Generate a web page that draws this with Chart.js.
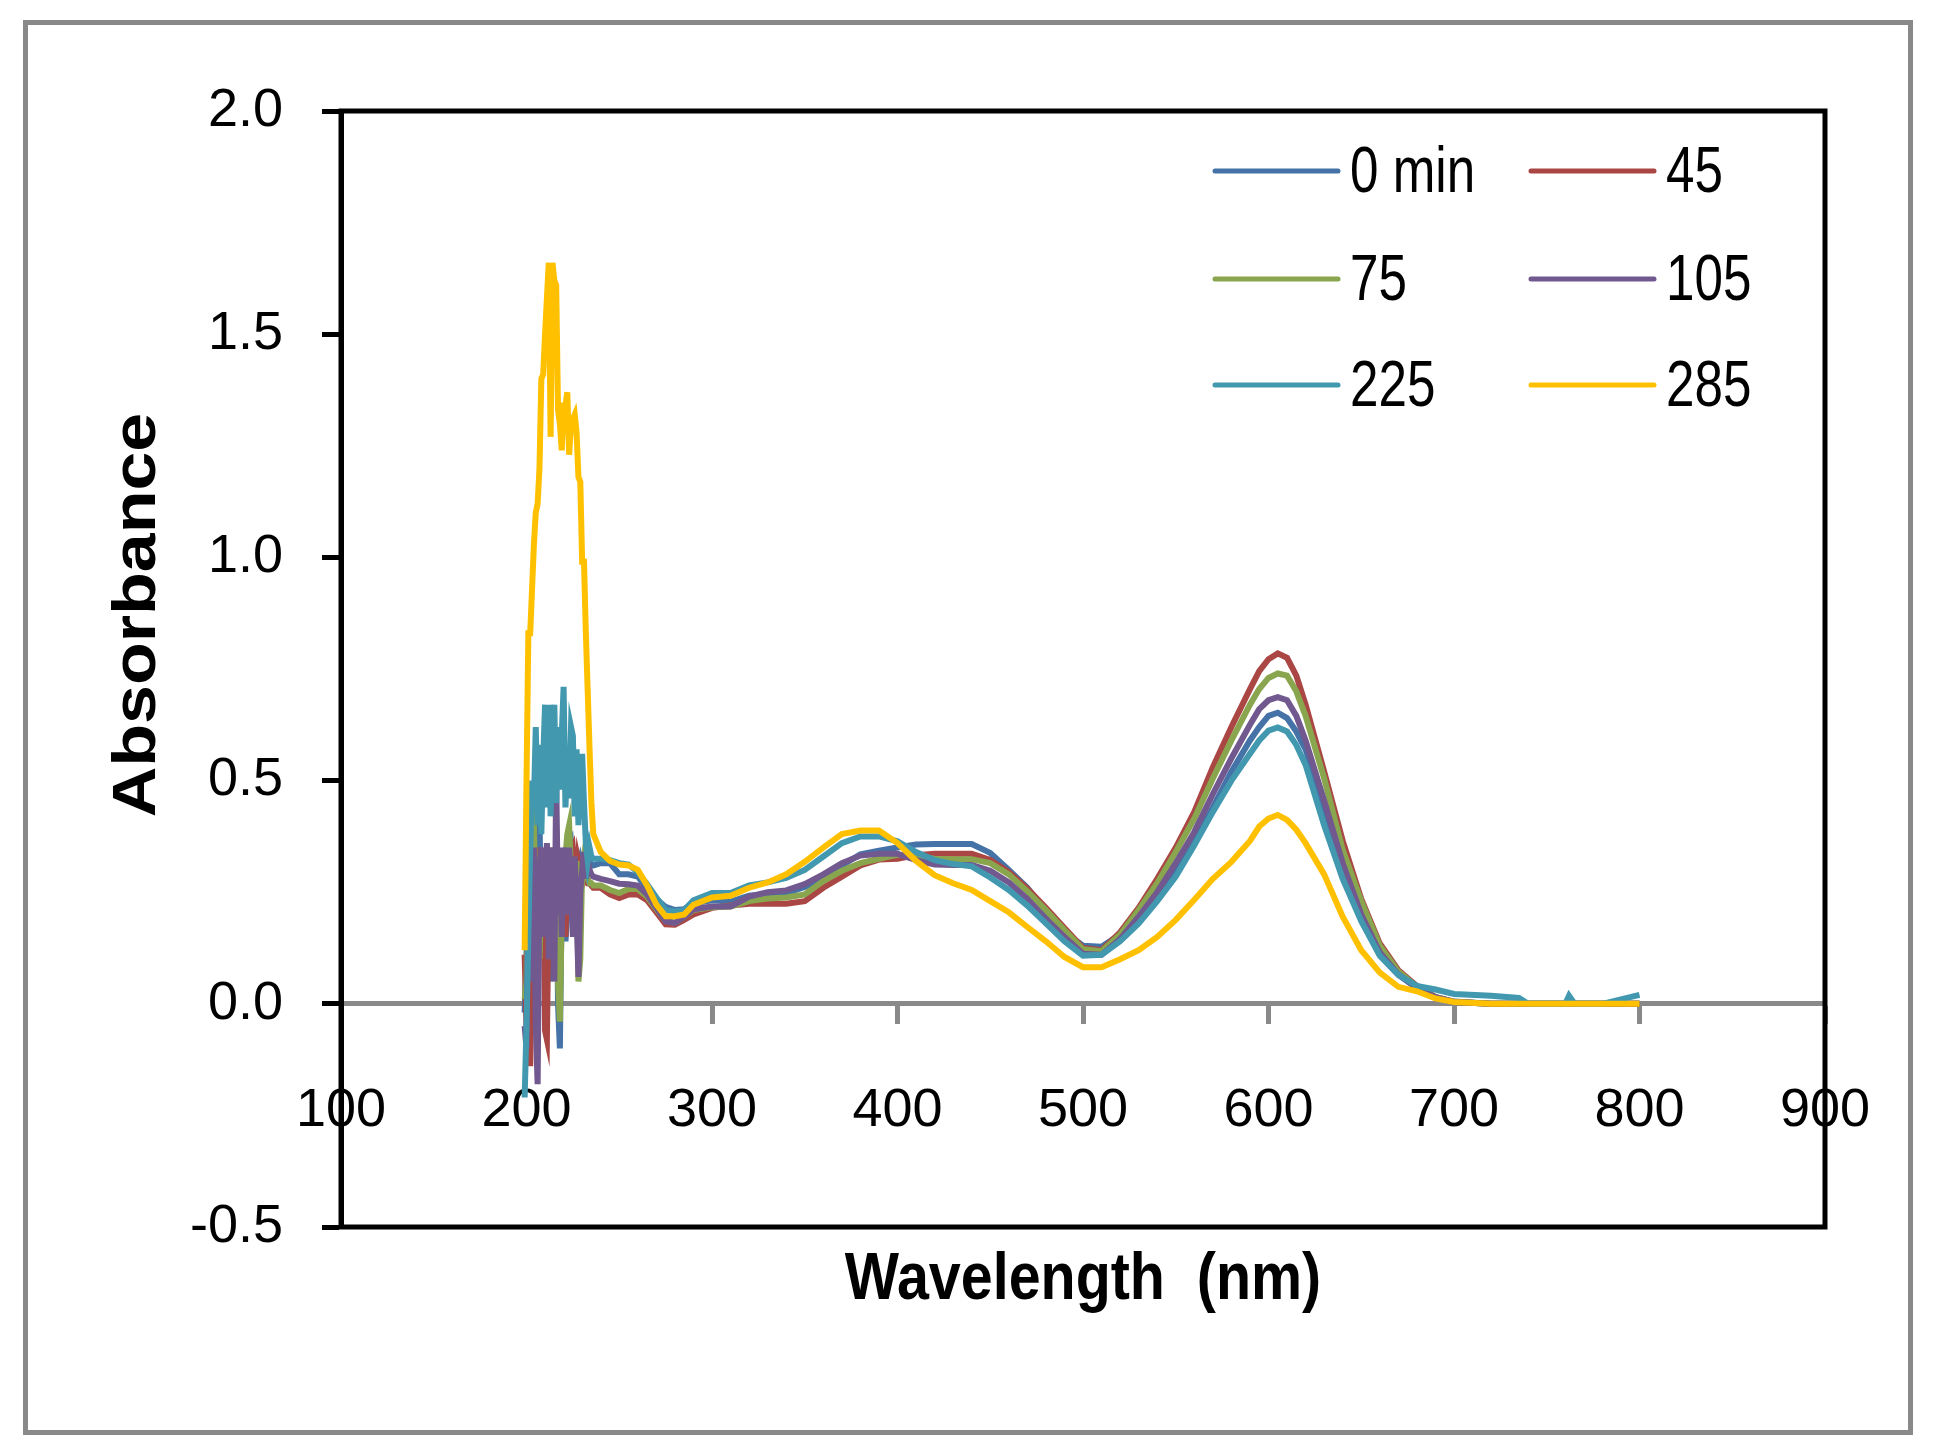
<!DOCTYPE html>
<html>
<head>
<meta charset="utf-8">
<title>Absorbance spectra</title>
<script src="https://cdn.jsdelivr.net/npm/chart.js@4.4.1/dist/chart.umd.min.js"></script>
<style>
  html, body { margin: 0; padding: 0; background: #fff; }
  #wrap { width: 1936px; height: 1455px; position: relative; }
</style>
</head>
<body>
<div id="wrap"><canvas id="spectra"></canvas></div>
<script>
// wavelength grid (nm): 1 nm steps through the noisy UV part, coarser after
const wavelengths = [
  199, 200, 201, 202, 203, 204, 205, 206, 207, 208, 209, 210, 211, 212, 213, 214, 215, 216, 217,
  218, 219, 220, 221, 222, 223, 224, 225, 226, 227, 228, 229, 230, 231, 232, 233, 234, 235, 236,
  240, 245, 250, 255, 260, 265, 270, 275, 280, 285, 290,
  300, 310, 320, 330, 340, 350, 360, 370, 380, 390, 400, 410, 420, 430, 440, 450, 460, 470, 480, 490, 500,
  510, 520, 530, 540, 550, 560, 570, 580, 590, 595, 600, 605, 610, 615, 620,
  630, 640, 650, 660, 670, 680, 690, 700,
  720, 735, 740, 760, 762, 765, 780, 800
]

const abs0 = [
  -0.02, 0.10, 0.30, 0.15, 0.25, 0.42, 0.20, 0.35, 0.42, 0.15, 0.30, 0.20, 0.35, 0.28, 0.05, 0.30, 0.22, 0.35, 0.00,
  -0.10, 0.25, 0.30, 0.14, 0.20, 0.35, 0.36, 0.30, 0.28, 0.20, 0.30, 0.32, 0.30, 0.31, 0.33, 0.31, 0.32, 0.31, 0.31,
  0.315, 0.315, 0.29, 0.29, 0.285, 0.26, 0.235, 0.217, 0.21, 0.212, 0.225,
  0.232, 0.229, 0.242, 0.246, 0.248, 0.262, 0.28, 0.31, 0.335, 0.343, 0.35, 0.357, 0.358, 0.358, 0.358, 0.338, 0.30, 0.26, 0.207, 0.16, 0.13,
  0.128, 0.155, 0.20, 0.25, 0.30, 0.365, 0.44, 0.52, 0.59, 0.62, 0.645, 0.652, 0.64, 0.61, 0.57,
  0.44, 0.29, 0.19, 0.11, 0.065, 0.035, 0.015, 0.005,
  0, 0, 0, 0, 0, 0, 0, 0
]

const abs45 = [
  0.11, -0.05, 0.25, -0.14, 0.20, 0.30, 0.05, 0.28, 0.35, 0.10, 0.32, -0.06, -0.08, 0.25, 0.35, 0.18, 0.30, 0.32, 0.10,
  0.25, 0.28, 0.30, 0.15, 0.30, 0.25, 0.34, 0.35, 0.30, 0.20, 0.32, 0.30, 0.27, 0.29, 0.28, 0.27, 0.27, 0.265, 0.26,
  0.26, 0.245, 0.237, 0.245, 0.245, 0.232, 0.205, 0.178, 0.177, 0.188, 0.20,
  0.215, 0.22, 0.224, 0.224, 0.224, 0.23, 0.26, 0.285, 0.31, 0.323, 0.325, 0.333, 0.336, 0.336, 0.336, 0.322, 0.295, 0.258, 0.215, 0.17, 0.125,
  0.12, 0.16, 0.215, 0.28, 0.35, 0.43, 0.53, 0.62, 0.705, 0.745, 0.772, 0.785, 0.775, 0.735, 0.67,
  0.52, 0.365, 0.235, 0.135, 0.075, 0.04, 0.015, 0.004,
  0, 0, 0, 0, 0, 0, 0, 0
]

const abs75 = [
  0.01, 0.05, 0.35, 0.30, 0.47, 0.40, 0.20, 0.30, 0.10, 0.25, 0.32, 0.15, 0.35, 0.25, 0.28, 0.10, 0.30, 0.25, 0.05,
  -0.04, 0.20, 0.27, 0.33, 0.38, 0.40, 0.30, 0.20, 0.28, 0.32, 0.05, 0.10, 0.30, 0.33, 0.30, 0.28, 0.27, 0.27, 0.265,
  0.265, 0.255, 0.248, 0.257, 0.257, 0.24, 0.212, 0.186, 0.181, 0.195, 0.21,
  0.216, 0.218, 0.23, 0.236, 0.238, 0.245, 0.275, 0.298, 0.315, 0.325, 0.334, 0.33, 0.325, 0.324, 0.324, 0.315, 0.29, 0.252, 0.21, 0.165, 0.122,
  0.118, 0.155, 0.21, 0.27, 0.34, 0.415, 0.505, 0.59, 0.67, 0.705, 0.73, 0.74, 0.735, 0.70, 0.645,
  0.505, 0.345, 0.23, 0.13, 0.072, 0.038, 0.015, 0.004,
  0, 0, 0, 0, 0, 0, 0, 0
]

const abs105 = [
  -0.05, -0.10, 0.30, 0.05, 0.15, 0.35, -0.05, -0.18, 0.30, 0.35, 0.15, 0.25, 0.36, 0.10, 0.30, 0.35, 0.05, 0.51, 0.20,
  0.35, 0.15, 0.35, 0.30, 0.20, 0.35, 0.28, 0.15, 0.33, 0.20, 0.06, 0.25, 0.30, 0.34, 0.28, 0.32, 0.30, 0.29, 0.285,
  0.28, 0.275, 0.269, 0.268, 0.265, 0.245, 0.215, 0.185, 0.181, 0.195, 0.212,
  0.218, 0.218, 0.24, 0.25, 0.254, 0.268, 0.29, 0.315, 0.332, 0.336, 0.336, 0.322, 0.312, 0.311, 0.311, 0.298, 0.272, 0.235, 0.19, 0.15, 0.112,
  0.11, 0.145, 0.195, 0.25, 0.315, 0.385, 0.47, 0.55, 0.625, 0.66, 0.68, 0.687, 0.68, 0.645, 0.59,
  0.455, 0.315, 0.20, 0.115, 0.066, 0.036, 0.015, 0.004,
  0, 0, 0, 0, 0, 0, 0, 0
]

const abs225 = [
  -0.21, -0.05, 0.15, 0.35, 0.50, 0.45, 0.62, 0.40, 0.58, 0.38, 0.55, 0.67, 0.44, 0.67, 0.42, 0.58, 0.67, 0.45, 0.62,
  0.48, 0.60, 0.71, 0.44, 0.55, 0.46, 0.62, 0.60, 0.42, 0.57, 0.40, 0.52, 0.56, 0.45, 0.36, 0.32, 0.35, 0.33, 0.325,
  0.325, 0.322, 0.315, 0.312, 0.295, 0.268, 0.238, 0.21, 0.207, 0.21, 0.232,
  0.248, 0.248, 0.265, 0.272, 0.282, 0.30, 0.33, 0.36, 0.375, 0.375, 0.364, 0.34, 0.322, 0.313, 0.308, 0.283, 0.255, 0.22, 0.18, 0.14, 0.108,
  0.11, 0.14, 0.18, 0.23, 0.285, 0.355, 0.43, 0.50, 0.56, 0.59, 0.612, 0.619, 0.61, 0.58, 0.535,
  0.40, 0.28, 0.185, 0.108, 0.065, 0.04, 0.032, 0.022,
  0.018, 0.013, 0, 0, 0.018, 0, 0, 0.02
]

const abs285 = [
  0.12, 0.50, 0.83, 0.83, 0.93, 1.03, 1.10, 1.12, 1.20, 1.40, 1.41, 1.50, 1.58, 1.66, 1.27, 1.66, 1.62, 1.61, 1.33,
  1.30, 1.24, 1.34, 1.34, 1.37, 1.23, 1.30, 1.31, 1.32, 1.28, 1.18, 1.17, 0.99, 0.99, 0.83, 0.70, 0.57, 0.45, 0.38,
  0.34, 0.32, 0.312, 0.31, 0.30, 0.265, 0.222, 0.196, 0.196, 0.20, 0.222,
  0.238, 0.242, 0.26, 0.272, 0.29, 0.318, 0.35, 0.38, 0.388, 0.388, 0.36, 0.32, 0.288, 0.27, 0.255, 0.23, 0.205, 0.172, 0.14, 0.105, 0.082,
  0.082, 0.10, 0.12, 0.15, 0.188, 0.233, 0.28, 0.318, 0.365, 0.397, 0.415, 0.423, 0.412, 0.39, 0.36,
  0.29, 0.195, 0.12, 0.07, 0.038, 0.028, 0.012, 0.004,
  0, 0, 0, 0, 0, 0, 0, 0
]

const seriesLabels = ['0 min', '45', '75', '105', '225', '285']
const seriesValues = [abs0, abs45, abs75, abs105, abs225, abs285]
const seriesColors = ['#4572A7', '#AA4643', '#89A54E', '#71588F', '#4198AF', '#FFC000']

const xTicks = [100, 200, 300, 400, 500, 600, 700, 800, 900]
const yTicks = [-0.5, 0, 0.5, 1.0, 1.5, 2.0]

const sans = "'Liberation Sans', Arial, sans-serif"

// text in the original is a bit condensed, so squeeze it sideways
function condensedText(ctx, text, x, y, squeeze) {
    ctx.save()
    ctx.translate(x, y)
    ctx.scale(squeeze, 1)
    ctx.fillText(text, 0, 0)
    ctx.restore()
}

// grey outer frame, black plot frame, axis titles and the 2-column legend
const decorPlugin = {
    id: 'decor',
    beforeDraw(chart) {
        const { ctx } = chart
        ctx.save()
        ctx.fillStyle = '#fff'
        ctx.fillRect(0, 0, chart.width, chart.height)
        ctx.strokeStyle = '#898989'
        ctx.lineWidth = 5
        ctx.strokeRect(25.5, 22.5, 1885, 1410)
        ctx.restore()
    },
    afterDraw(chart) {
        const { ctx, chartArea: a } = chart
        ctx.save()
        ctx.strokeStyle = '#000'
        ctx.lineWidth = 5
        ctx.strokeRect(a.left, a.top, a.right - a.left, a.bottom - a.top)

        ctx.fillStyle = '#000'
        ctx.textAlign = 'center'
        ctx.textBaseline = 'middle'
        ctx.font = 'bold 66px ' + sans
        condensedText(ctx, 'Wavelength  (nm)', (a.left + a.right) / 2, 1281, 0.87)

        ctx.save()
        ctx.translate(138, 615)
        ctx.rotate(-Math.PI / 2)
        ctx.scale(1, 0.88)
        ctx.font = 'bold 70px ' + sans
        ctx.fillText('Absorbance', 0, 0)
        ctx.restore()

        // legend
        const cols = [1215, 1531]
        const rows = [171, 279, 385]
        ctx.font = '64px ' + sans
        ctx.textAlign = 'left'
        ctx.lineCap = 'round'
        chart.data.datasets.forEach((ds, i) => {
            const x = cols[i % 2]
            const y = rows[Math.floor(i / 2)]
            ctx.strokeStyle = ds.borderColor
            ctx.lineWidth = 5
            ctx.beginPath()
            ctx.moveTo(x, y)
            ctx.lineTo(x + 123, y)
            ctx.stroke()
            condensedText(ctx, ds.label, x + 135, y + 3, 0.8)
        })
        ctx.restore()
    }
}

const datasets = seriesLabels.map((label, i) => ({
    label,
    data: wavelengths.map((w, j) => ({ x: w, y: seriesValues[i][j] })),
    borderColor: seriesColors[i],
    borderWidth: 6,
    pointRadius: 0,
    tension: 0,
    fill: false,
    order: seriesLabels.length - i
}))

new Chart(document.getElementById('spectra'), {
    type: 'line',
    data: { datasets },
    options: {
        responsive: true,
        maintainAspectRatio: false,
        devicePixelRatio: 1,
        animation: false,
        layout: { padding: { left: 0, top: 111, right: 111, bottom: 228 } },
        plugins: {
            legend: { display: false },
            tooltip: { enabled: false }
        },
        scales: {
            x: {
                type: 'linear',
                position: { y: 0 },
                min: xTicks[0],
                max: xTicks[xTicks.length - 1],
                afterBuildTicks: scale => { scale.ticks = xTicks.map(v => ({ value: v })) },
                ticks: {
                    color: '#000',
                    font: { family: sans, size: 54 },
                    padding: 57,
                    maxRotation: 0,
                    autoSkip: false
                },
                grid: {
                    drawOnChartArea: false,
                    drawTicks: true,
                    tickLength: 18,
                    tickWidth: 5,
                    tickColor: '#898989'
                },
                border: { color: '#898989', width: 5 }
            },
            y: {
                type: 'linear',
                position: 'left',
                min: yTicks[0],
                max: yTicks[yTicks.length - 1],
                afterBuildTicks: scale => { scale.ticks = yTicks.map(v => ({ value: v })) },
                afterFit: scale => { scale.width = 341 },
                ticks: {
                    color: '#000',
                    font: { family: sans, size: 54 },
                    padding: 39,
                    callback: v => v.toFixed(1)
                },
                grid: {
                    drawOnChartArea: false,
                    drawTicks: true,
                    tickLength: 19,
                    tickWidth: 5,
                    tickColor: '#000'
                },
                border: { color: '#000', width: 5 }
            }
        }
    },
    plugins: [decorPlugin]
})
</script>
</body>
</html>
